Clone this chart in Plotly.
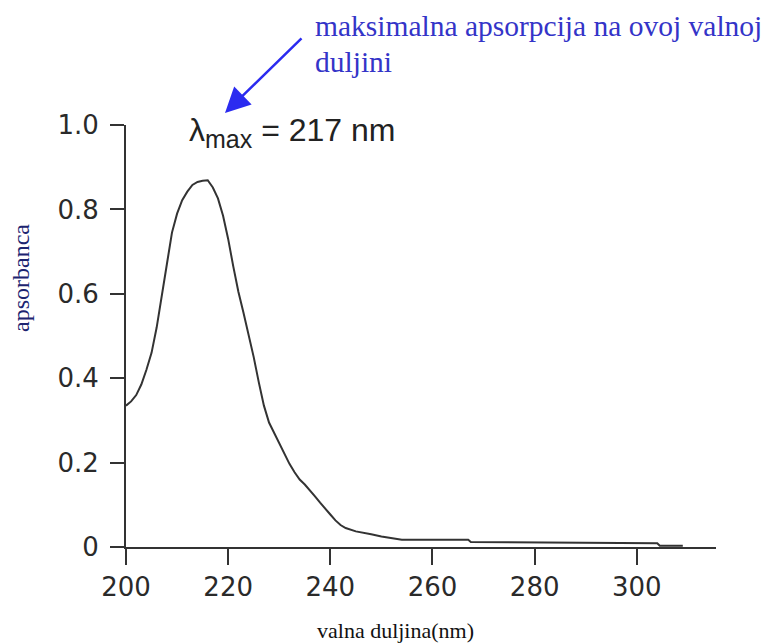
import plotly.graph_objects as go

wavelength = [200, 201, 202, 203, 204, 205, 206, 207, 208, 209, 210, 211, 212, 213, 214,
              215, 216, 217, 218, 219, 220, 221, 222, 223, 224, 225, 226, 227, 228, 229,
              230, 231, 232, 233, 234, 235, 236, 237, 238, 239, 240, 241, 242, 243, 245,
              248, 250, 254, 267, 267.5, 304, 304.5, 309]
absorbance = [0.335, 0.345, 0.36, 0.385, 0.42, 0.46, 0.52, 0.6, 0.67, 0.745, 0.79, 0.822,
              0.842, 0.858, 0.865, 0.868, 0.869, 0.852, 0.826, 0.785, 0.73, 0.665, 0.605,
              0.555, 0.505, 0.45, 0.39, 0.335, 0.295, 0.27, 0.245, 0.22, 0.197, 0.177,
              0.16, 0.148, 0.135, 0.12, 0.105, 0.09, 0.077, 0.063, 0.052, 0.045, 0.037,
              0.03, 0.025, 0.017, 0.017, 0.012, 0.009, 0.003, 0.003]

x_ticks = [200, 220, 240, 260, 280, 300]
y_ticks = [0, 0.2, 0.4, 0.6, 0.8, 1.0]
y_tick_labels = ["0", "0.2", "0.4", "0.6", "0.8", "1.0"]

# plot area as seen on screen (pixels); page body adds an 8px offset
L, R, T, B = 126, 716, 125, 547
W, H = 771, 643
OFF = 8


def px(xpix):
    return (xpix - L) / (R - L)


def py(ypix):
    return (B - ypix) / (B - T)


fig = go.Figure()
fig.add_trace(go.Scatter(x=wavelength, y=absorbance, mode="lines",
                         line=dict(color="#333333", width=2), showlegend=False,
                         hoverinfo="skip"))

tickfont = dict(family="DejaVu Sans", size=26, color="#2a2a2a")

fig.update_layout(
    width=W, height=H,
    margin=dict(l=L - OFF, r=W - (R - OFF), t=T - OFF, b=H - (B - OFF)),
    paper_bgcolor="white", plot_bgcolor="white",
    xaxis=dict(range=[200, 315.5], tickvals=x_ticks, ticks="outside", ticklen=16,
               tickwidth=2, tickcolor="#333333", showline=True, linecolor="#333333",
               linewidth=2, showgrid=False, zeroline=False, tickfont=tickfont,
               automargin=False),
    yaxis=dict(range=[0, 1.0], tickvals=y_ticks, ticktext=y_tick_labels, ticks="outside",
               ticklen=14, tickwidth=2, tickcolor="#333333", showline=True,
               linecolor="#333333", linewidth=2, showgrid=False, zeroline=False,
               tickfont=tickfont, ticklabelstandoff=6, automargin=False),
)

blue = "#3434c8"
annotations = [
    dict(text="maksimalna apsorpcija na ovoj valnoj", x=px(313), y=py(26),
         xanchor="left", yanchor="middle",
         font=dict(family="Liberation Serif", size=29.5, color=blue)),
    dict(text="duljini", x=px(313), y=py(62), xanchor="left", yanchor="middle",
         font=dict(family="Liberation Serif", size=29.5, color=blue)),
    dict(text="λ<sub><span style='font-size:25px'>max</span></sub> = 217 nm",
         x=px(187), y=py(133), xanchor="left", yanchor="middle",
         font=dict(family="Liberation Sans", size=32, color="#222222")),
    dict(text="apsorbanca", x=px(21), y=py(278), xanchor="center", yanchor="middle",
         textangle=-90, font=dict(family="Liberation Serif", size=24, color="#1c2470")),
    dict(text="valna duljina(nm)", x=px(395), y=py(630), xanchor="center",
         yanchor="middle", font=dict(family="Liberation Serif", size=22, color="#111111")),
    dict(text="", x=px(225), y=py(113), showarrow=True, ax=78, ay=-76,
         arrowhead=2, arrowsize=2, arrowwidth=2.5, arrowcolor="#2b2bf0", standoff=0),
]
for a in annotations:
    a.setdefault("showarrow", False)
    a["xref"] = "paper"
    a["yref"] = "paper"
fig.update_layout(annotations=annotations)

fig.write_html("out.html")
